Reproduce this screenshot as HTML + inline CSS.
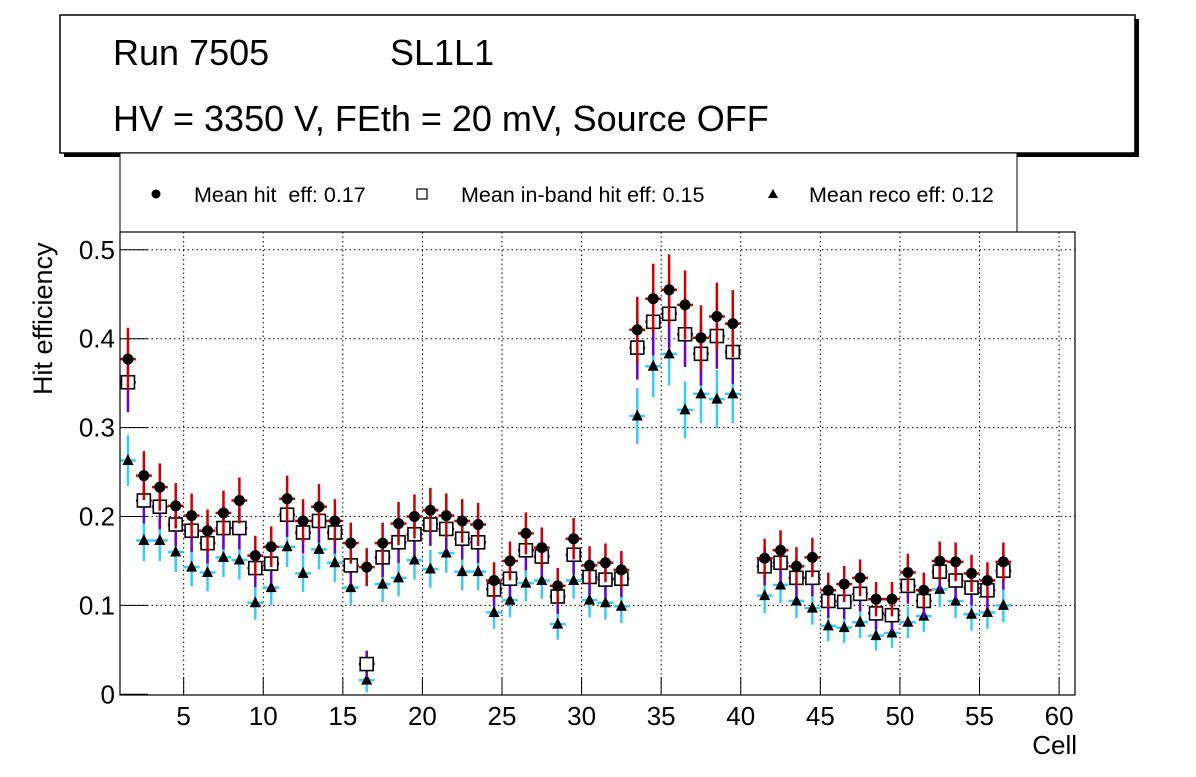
<!DOCTYPE html>
<html><head><meta charset="utf-8"><style>
body{margin:0;background:#fff;width:1196px;height:772px;overflow:hidden}
svg{font-family:"Liberation Sans",sans-serif}
</style></head><body>
<svg id="c" width="1196" height="772" xmlns="http://www.w3.org/2000/svg">
<rect x="64" y="19" width="1075" height="138" fill="#000"/>
<rect x="60" y="15" width="1075" height="138" fill="#fff" stroke="#000" stroke-width="1.5"/>
<text x="113" y="65" font-size="36">Run 7505</text>
<text x="390" y="65" font-size="36">SL1L1</text>
<text x="113" y="131" font-size="36">HV = 3350 V, FEth = 20 mV, Source OFF</text>
<rect x="120" y="153" width="897" height="79" fill="#fff" stroke="#000" stroke-width="1"/>
<g id="leg" font-size="21.5"></g>
<g id="grid"></g>
<g id="marks"></g>
<rect x="120" y="232" width="955" height="463" fill="none" stroke="#000" stroke-width="1.2"/>
<g id="axes" font-size="26"></g>
<text x="1077" y="754" font-size="26" text-anchor="end">Cell</text>
<text transform="translate(52,395) rotate(-90)" font-size="27">Hit efficiency</text>
</svg>
<script>
const cells=[1,2,3,4,5,6,7,8,9,10,11,12,13,14,15,16,17,18,19,20,21,22,23,24,25,26,27,28,29,30,31,32,33,34,35,36,37,38,39,41,42,43,44,45,46,47,48,49,50,51,52,53,54,55,56];
const hitEff=[.377,.246,.233,.212,.201,.184,.204,.218,.156,.166,.220,.195,.211,.195,.170,.143,.170,.192,.200,.207,.201,.195,.191,.128,.150,.181,.165,.122,.175,.145,.148,.140,.410,.445,.455,.438,.401,.425,.417,.153,.162,.144,.154,.117,.124,.131,.107,.107,.137,.117,.150,.149,.136,.128,.149];
const inbandEff=[.351,.218,.211,.191,.184,.170,.187,.187,.142,.147,.202,.182,.195,.182,.145,.034,.154,.171,.180,.191,.186,.175,.171,.118,.130,.162,.155,.110,.157,.132,.129,.130,.390,.419,.428,.405,.383,.403,.385,.144,.148,.131,.131,.105,.104,.113,.091,.089,.122,.105,.138,.128,.120,.117,.139];
const recoEff=[.263,.173,.173,.160,.143,.137,.154,.151,.103,.120,.166,.136,.163,.148,.120,.016,.124,.131,.151,.141,.159,.138,.138,.092,.106,.125,.128,.079,.128,.106,.103,.099,.313,.369,.383,.320,.338,.332,.338,.111,.123,.105,.097,.077,.075,.081,.066,.069,.081,.088,.118,.105,.090,.092,.100];
const xTicks=[5,10,15,20,25,30,35,40,45,50,55,60];
const yTicks=[0,0.1,0.2,0.3,0.4,0.5];
const NS="http://www.w3.org/2000/svg";
const X=v=>120+(v-1)*955/60;
const Y=v=>694.3-v*889;
function mk(tag,attrs,parent){const e=document.createElementNS(NS,tag);for(const k in attrs)e.setAttribute(k,attrs[k]);parent.appendChild(e);return e;}
const grid=document.getElementById('grid'),axes=document.getElementById('axes'),marks=document.getElementById('marks'),leg=document.getElementById('leg');
xTicks.forEach(t=>{
  const x=X(t);
  let g=mk('line',{x1:x,x2:x,y1:232,y2:695,stroke:'#000','stroke-dasharray':'1.5,3','stroke-width':1},grid);
  
  
  let tk=mk('line',{x1:x,x2:x,y1:695,y2:677,stroke:'#000','stroke-width':1},axes);
  
  
  let lb=mk('text',{x:x,y:725,'text-anchor':'middle'},axes);lb.textContent=t;
  
  
});
yTicks.forEach(t=>{
  const y=Y(t);
  if(t>0){let g=mk('line',{x1:120,x2:1075,y1:y,y2:y,stroke:'#000','stroke-dasharray':'1.5,3','stroke-width':1},grid);
  
  }
  let tk=mk('line',{x1:120,x2:148,y1:y,y2:y,stroke:'#000','stroke-width':1},axes);
  
  
  let lb=mk('text',{x:115,y:y+9,'text-anchor':'end'},axes);lb.textContent=String(t);
  
  
});
const err=v=>0.013+0.059*v;
function bars(arr,col,nm){
  arr.forEach((v,i)=>{
    const cx=X(cells[i]+0.5),cy=Y(v),e=err(v);
    const g=mk('g',{stroke:col,'stroke-width':2.5},marks);
    
    
    mk('line',{x1:cx,x2:cx,y1:Y(v+e),y2:Y(Math.max(0,v-e))},g);
    mk('line',{x1:X(cells[i]),x2:X(cells[i]+1),y1:cy,y2:cy},g);
  });
}
bars(recoEff,'#33ccff','reco');
recoEff.forEach((v,i)=>{const cx=X(cells[i]+0.5),cy=Y(v);
  const p=mk('polygon',{points:`${cx-5.5},${cy+4.5} ${cx+5.5},${cy+4.5} ${cx},${cy-6.5}`,fill:'#000'},marks);
  
  });
bars(inbandEff,'#6a00d0','inband');
inbandEff.forEach((v,i)=>{const cx=X(cells[i]+0.5),cy=Y(v);
  const r=mk('rect',{x:cx-6.5,y:cy-6.5,width:13,height:13,fill:'#fff',stroke:'#000','stroke-width':1.6},marks);
  
  });
bars(hitEff,'#cc0000','hit');
hitEff.forEach((v,i)=>{const cx=X(cells[i]+0.5),cy=Y(v);
  const c=mk('circle',{cx:cx,cy:cy,r:5.5,fill:'#000'},marks);
  
  });
// legend
let a=mk('circle',{cx:156,cy:194,r:4.5,fill:'#000'},leg);


let t1=mk('text',{x:194,y:202},leg);t1.textContent='Mean hit\u00a0 eff: 0.17';


let b=mk('rect',{x:417,y:189,width:10,height:10,fill:'none',stroke:'#000','stroke-width':1.2},leg);


let t2=mk('text',{x:461,y:202},leg);t2.textContent='Mean in-band hit eff: 0.15';


let c=mk('polygon',{points:'768,198 778,198 773,189',fill:'#000'},leg);


let t3=mk('text',{x:809,y:202},leg);t3.textContent='Mean reco eff: 0.12';


</script>
</body></html>
